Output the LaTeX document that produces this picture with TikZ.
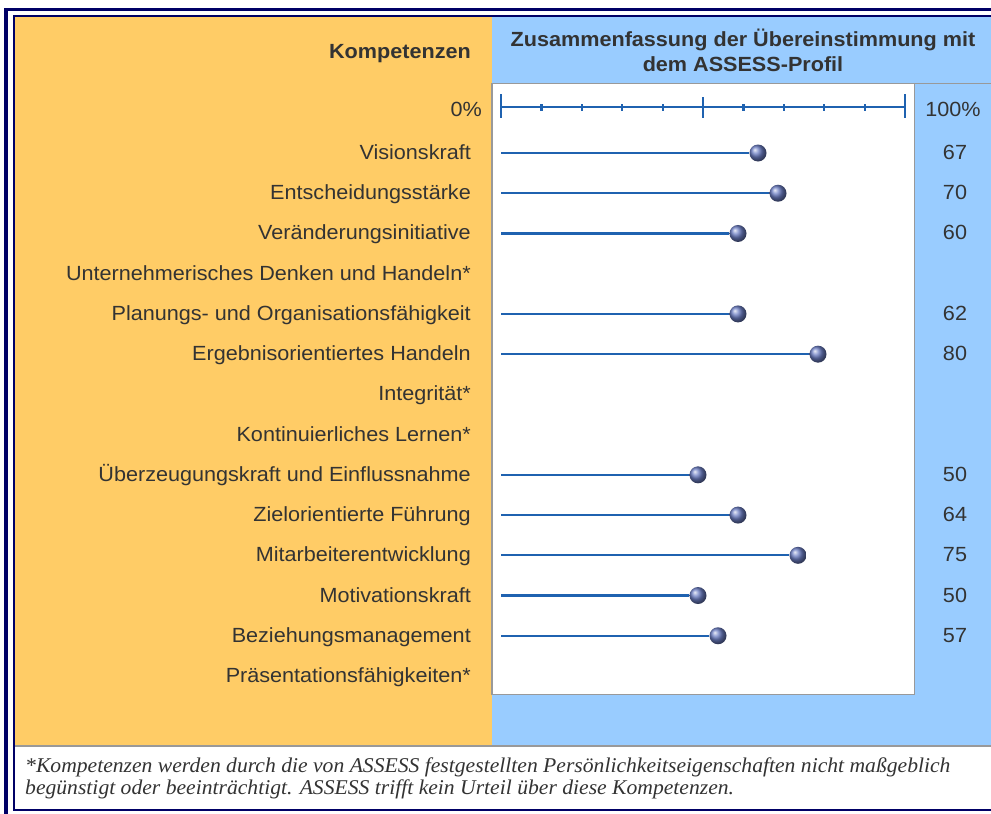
\documentclass[tikz,border=0pt]{standalone}
\usepackage{fontspec}
\setmainfont{Liberation Sans}[FakeStretch=1.054]
\newfontfamily\notefont{Liberation Serif}[FakeStretch=1.03]
\usepackage{tikz}
\usetikzlibrary{shadings}

\definecolor{navy}{HTML}{000066}
\definecolor{orangebg}{HTML}{FFCC66}
\definecolor{bluebg}{HTML}{99CCFF}
\definecolor{rim}{HTML}{999999}
\definecolor{ink}{HTML}{333333}
\definecolor{barblue}{HTML}{1F62B0}
\definecolor{knob}{HTML}{6C7EC4}

\begin{document}
\begin{tikzpicture}[x=1pt,y=-1pt,
	lbl/.style={anchor=base east,inner sep=0pt,text=ink,font=\fontsize{20.5}{24}\selectfont},
	num/.style={anchor=base,inner sep=0pt,text=ink,font=\fontsize{20.5}{24}\selectfont},
	bar/.style={barblue,line width=2.2pt},
	knobby/.style={circle,inner sep=0pt,minimum size=17pt,shading=ball,ball color=knob}]
		\useasboundingbox (0,0) rectangle (991,814);

		% backgrounds
		\fill[white] (0,0) rectangle (991,814);
		\fill[orangebg] (15,17) rectangle (492,745);
		\fill[bluebg] (492,17) rectangle (991,745);
		\fill[white,draw=rim,line width=1.5pt] (492,83.5) rectangle (914.5,694.5);
		\draw[rim,line width=1.5pt] (492,83.5) -- (991,83.5);
		\draw[rim,line width=2pt] (15,745.5) -- (991,745.5);

		% frame
		\draw[navy,line width=3.5pt] (6,9.5) rectangle (1020,830);
		\draw[navy,line width=2pt] (14,15.5) rectangle (1005,810);

		% headings
		\node[lbl,font=\bfseries\fontsize{20.5}{24}\selectfont] (head) at (471,58) {Kompetenzen};
		\node[anchor=base,text=ink,align=center,inner sep=0pt,font=\bfseries\fontsize{20.5}{25}\selectfont] (sum) at (743,71)
			{Zusammenfassung der Übereinstimmung mit\\dem ASSESS-Profil};

		% scale
		\coordinate (lo) at (501,107);
		\coordinate (hi) at (905,107);
		\draw[bar] (lo) -- (hi);
		\draw[bar] (501,94) -- (501,118);
		\draw[bar] (905,94) -- (905,118);
		\draw[bar] (703,97) -- (703,118);
		\foreach \t in {1,2,3,4,6,7,8,9}
			\draw[bar] (501+40.4*\t,104) -- (501+40.4*\t,111);
		\node[lbl] (zero) at (482,116) {0\%};
		\node[num] (full) at (953,116) {100\%};

		% rows
		\foreach \i/\name/\val/\pos in {
			1/Visionskraft/67/758,
			2/Entscheidungsstärke/70/778,
			3/Veränderungsinitiative/60/738,
			5/Planungs- und Organisationsfähigkeit/62/738,
			6/Ergebnisorientiertes Handeln/80/818,
			9/Überzeugungskraft und Einflussnahme/50/698,
			10/Zielorientierte Führung/64/738,
			11/Mitarbeiterentwicklung/75/798,
			12/Motivationskraft/50/698,
			13/Beziehungsmanagement/57/718}{
			\node[lbl] (k\i) at (471,153+40.23*\i-40.23+6.5) {\name};
			\coordinate (s\i) at (501,153+40.23*\i-40.23);
			\node[knobby] (b\i) at (\pos,153+40.23*\i-40.23) {};
			\draw[bar] (s\i) -- (b\i.west);
			\node[num] (v\i) at (955,153+40.23*\i-40.23+6.5) {\val};
		}
		\foreach \i/\name in {4/Unternehmerisches Denken und Handeln*,
			7/Integrität*,8/Kontinuierliches Lernen*,14/Präsentationsfähigkeiten*}
			\node[lbl] (k\i) at (471,153+40.23*\i-40.23+6.5) {\name};

		% footnote
		\node[anchor=base west,inner sep=0pt,text=ink,align=left,
			font=\notefont\itshape\fontsize{21}{21.5}\selectfont] (note) at (25,794)
			{*Kompetenzen werden durch die von ASSESS festgestellten Persönlichkeitseigenschaften nicht maßgeblich\\
			begünstigt oder beeinträchtigt. ASSESS trifft kein Urteil über diese Kompetenzen.};

	\end{tikzpicture}
\end{document}
